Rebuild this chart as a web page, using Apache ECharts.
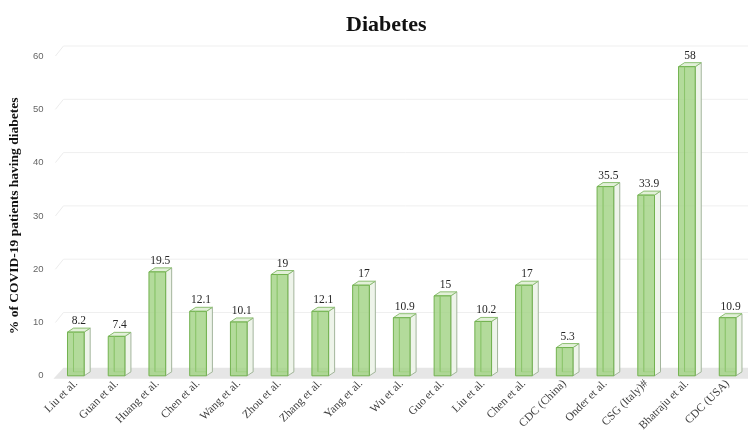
<!DOCTYPE html>
<html>
<head>
<meta charset="utf-8">
<script src="https://cdn.jsdelivr.net/npm/echarts@6/dist/echarts.min.js"></script>
<style>
  html, body { margin: 0; padding: 0; background: #fff; }
  #chart { width: 748px; height: 434px; }
</style>
</head>
<body>
<div id="chart"></div>
<script>
// Study / source names along the x axis
const categories = [
  'Liu et al.', 'Guan et al.', 'Huang et al.', 'Chen et al.', 'Wang et al.',
  'Zhou et al.', 'Zhang et al.', 'Yang et al.', 'Wu et al.', 'Guo et al.',
  'Liu et al.', 'Chen et al.', 'CDC (China)', 'Onder et al.', 'CSG (Italy)#',
  'Bhatraju et al.', 'CDC (USA)'
];
// Share of COVID-19 patients with diabetes (%)
const diabetesPct = [8.2, 7.4, 19.5, 12.1, 10.1, 19, 12.1, 17, 10.9, 15, 10.2, 17, 5.3, 35.5, 33.9, 58, 10.9];
// Value-axis ticks
const yTicks = [0, 10, 20, 30, 40, 50, 60];

const SERIF = "'Liberation Serif', 'Times New Roman', serif";
const DEPTH_X = 6, DEPTH_Y = 4;      // box depth of each column
const WALL_X = 8, WALL_Y = 10;       // depth of back wall behind columns

const chart = echarts.init(document.getElementById('chart'));

// Back wall gridlines and floor, projected behind the plot plane
function renderWall(params, api) {
  const cs = params.coordSys;
  const v = api.value(1);
  const y = api.coord([0, v])[1];
  const gx = cs.x, gw = cs.width;
  if (v === 0) {
    return {
      type: 'polygon',
      shape: { points: [[gx - 2, y + 3], [gx + WALL_X, y - WALL_Y + 2], [gx + gw, y - WALL_Y + 2], [gx + gw, y + 3]] },
      style: { fill: '#e6e6e6' }
    };
  }
  return {
    type: 'group',
    children: [
      { type: 'line', shape: { x1: gx, y1: y, x2: gx + WALL_X, y2: y - WALL_Y }, style: { stroke: '#ececec', lineWidth: 1 } },
      { type: 'line', shape: { x1: gx + WALL_X, y1: y - WALL_Y, x2: gx + gw, y2: y - WALL_Y }, style: { stroke: '#efefef', lineWidth: 1 } }
    ]
  };
}

// 3D-looking column: back edges, side face, top face, front face, value label
function renderBox(params, api) {
  const idx = api.value(0), v = api.value(1);
  const top = api.coord([idx, v]);
  const base = api.coord([idx, 0]);
  const bw = api.size([1, 0])[0] * 0.41;
  const x0 = top[0] - bw / 2, x1 = top[0] + bw / 2;
  const yt = top[1], yb = base[1];
  const dx = DEPTH_X, dy = DEPTH_Y;
  return {
    type: 'group',
    children: [
      // hidden back edges seen through the translucent column
      { type: 'polyline', shape: { points: [[x0 + dx, yt - dy], [x0 + dx, yb - dy], [x1 + dx, yb - dy]] },
        style: { stroke: '#9ccf82', lineWidth: 1, fill: null } },
      // right side face
      { type: 'polygon', shape: { points: [[x1, yt], [x1 + dx, yt - dy], [x1 + dx, yb - dy], [x1, yb]] },
        style: { fill: '#eef4ea', stroke: '#a3b59c', lineWidth: 1 } },
      // top face
      { type: 'polygon', shape: { points: [[x0, yt], [x0 + dx, yt - dy], [x1 + dx, yt - dy], [x1, yt]] },
        style: { fill: '#e2f0d8', stroke: '#8dbf73', lineWidth: 1 } },
      // front face
      { type: 'rect', shape: { x: x0, y: yt, width: bw, height: yb - yt },
        style: { fill: 'rgba(160,210,130,0.8)', stroke: '#72b24f', lineWidth: 1 } },
      // back-left edge through the front
      { type: 'line', shape: { x1: x0 + dx, y1: yt, x2: x0 + dx, y2: yb - dy },
        style: { stroke: '#8cc46c', lineWidth: 1 } },
      // value label
      { type: 'text', x: top[0] + dx / 2, y: yt - dy - 1,
        style: { text: String(v), fill: '#262626', font: '11.5px ' + SERIF, align: 'center', verticalAlign: 'bottom' } }
    ]
  };
}

chart.setOption({
  animation: false,
  backgroundColor: '#ffffff',
  title: {
    text: 'Diabetes',
    left: 341,
    top: 9,
    textStyle: { fontFamily: SERIF, fontWeight: 'bold', fontSize: 22, color: '#111' }
  },
  grid: { left: 47, right: 0, top: 56, bottom: 56, containLabel: false },
  xAxis: {
    type: 'category',
    data: categories,
    axisLine: { show: false },
    axisTick: { show: false },
    axisLabel: {
      rotate: 45, margin: 6, interval: 0,
      fontFamily: SERIF, fontSize: 11.5, color: '#404040'
    },
    splitLine: { show: false }
  },
  yAxis: {
    type: 'value',
    min: 0, max: 60, interval: 10,
    name: '% of COVID-19 patients having diabetes',
    nameLocation: 'middle',
    nameGap: 28,
    nameTextStyle: { fontFamily: SERIF, fontWeight: 'bold', fontSize: 13.5, color: '#111' },
    axisLine: { show: false },
    axisTick: { show: false },
    axisLabel: { margin: 12, fontFamily: "'Liberation Sans', Arial, sans-serif", fontSize: 9.5, color: '#666' },
    splitLine: { show: false }
  },
  series: [
    {
      type: 'custom',
      renderItem: renderWall,
      data: yTicks.map(t => [0, t]),
      silent: true,
      z: 1
    },
    {
      type: 'custom',
      renderItem: renderBox,
      data: diabetesPct.map((v, i) => [i, v]),
      z: 2
    }
  ]
});
</script>
</body>
</html>
